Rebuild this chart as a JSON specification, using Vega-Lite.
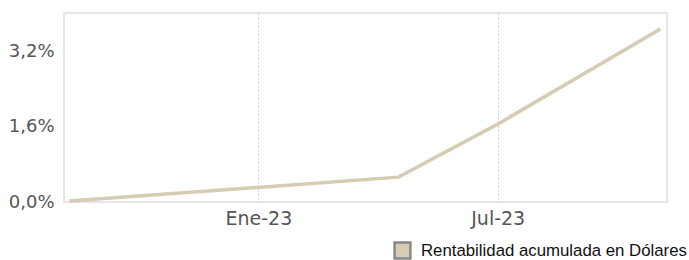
{
  "$schema": "https://vega.github.io/schema/vega-lite/v6.json",
  "autosize": {"type": "none"},
  "width": 603,
  "height": 189,
  "padding": {"left": 64, "top": 13, "right": 22, "bottom": 58},
  "background": "white",
  "config": {
    "view": {"stroke": "#e6e6e6", "strokeWidth": 2},
    "font": "DejaVu Sans"
  },
  "data": {
    "values": [
      {"fecha": "2022-08-11", "rent": 0.02, "serie": "Rentabilidad acumulada en Dólares"},
      {"fecha": "2023-04-17", "rent": 0.53, "serie": "Rentabilidad acumulada en Dólares"},
      {"fecha": "2023-07-01", "rent": 1.66, "serie": "Rentabilidad acumulada en Dólares"},
      {"fecha": "2023-11-01", "rent": 3.69, "serie": "Rentabilidad acumulada en Dólares"}
    ]
  },
  "encoding": {
    "x": {
      "field": "fecha",
      "type": "temporal",
      "title": null,
      "scale": {"type": "utc", "domain": [1659830400000, 1699228800000]},
      "axis": {
        "values": [1672531200000, 1688169600000],
        "labelExpr": "(utcmonth(datum.value) == 0 ? 'Ene' : 'Jul') + '-' + utcFormat(datum.value, '%y')",
        "grid": true,
        "gridColor": "#cccccc",
        "gridDash": [2, 2],
        "gridWidth": 1,
        "domain": false,
        "ticks": false,
        "labelPadding": 7,
        "labelFontSize": 19,
        "labelColor": "#555555",
        "labelFont": "DejaVu Sans"
      }
    },
    "y": {
      "field": "rent",
      "type": "quantitative",
      "title": null,
      "scale": {"domain": [0, 4.03], "nice": false, "zero": true},
      "axis": {
        "values": [0, 1.6, 3.2],
        "labelExpr": "replace(format(datum.value, '.1f'), '.', ',') + '%'",
        "grid": false,
        "domain": false,
        "ticks": false,
        "labelPadding": 10,
        "labelFontSize": 18,
        "labelColor": "#555555",
        "labelFont": "DejaVu Sans",
        "labelBaseline": "middle"
      }
    }
  },
  "layer": [
    {
      "mark": {"type": "line", "strokeWidth": 3.5, "stroke": "#d5ccb3"}
    },
    {
      "transform": [{"filter": "false"}],
      "mark": {"type": "point", "shape": "square", "filled": true, "stroke": "#888888", "strokeWidth": 2.5, "opacity": 1},
      "encoding": {
        "fill": {
          "field": "serie",
          "type": "nominal",
          "scale": {"domain": ["Rentabilidad acumulada en Dólares"], "range": ["#d5ccb3"]},
          "legend": {
            "title": null,
            "orient": "none",
            "legendX": 329,
            "legendY": 228,
            "symbolType": "square",
            "symbolSize": 250,
            "symbolFillColor": "#d5ccb3",
            "symbolStrokeColor": "#888888",
            "symbolStrokeWidth": 2.5,
            "symbolOpacity": 1,
            "labelFont": "Liberation Sans",
            "labelFontSize": 16.8,
            "labelLimit": 400,
            "labelColor": "#111111",
            "labelOffset": 9
          }
        }
      }
    }
  ]
}
